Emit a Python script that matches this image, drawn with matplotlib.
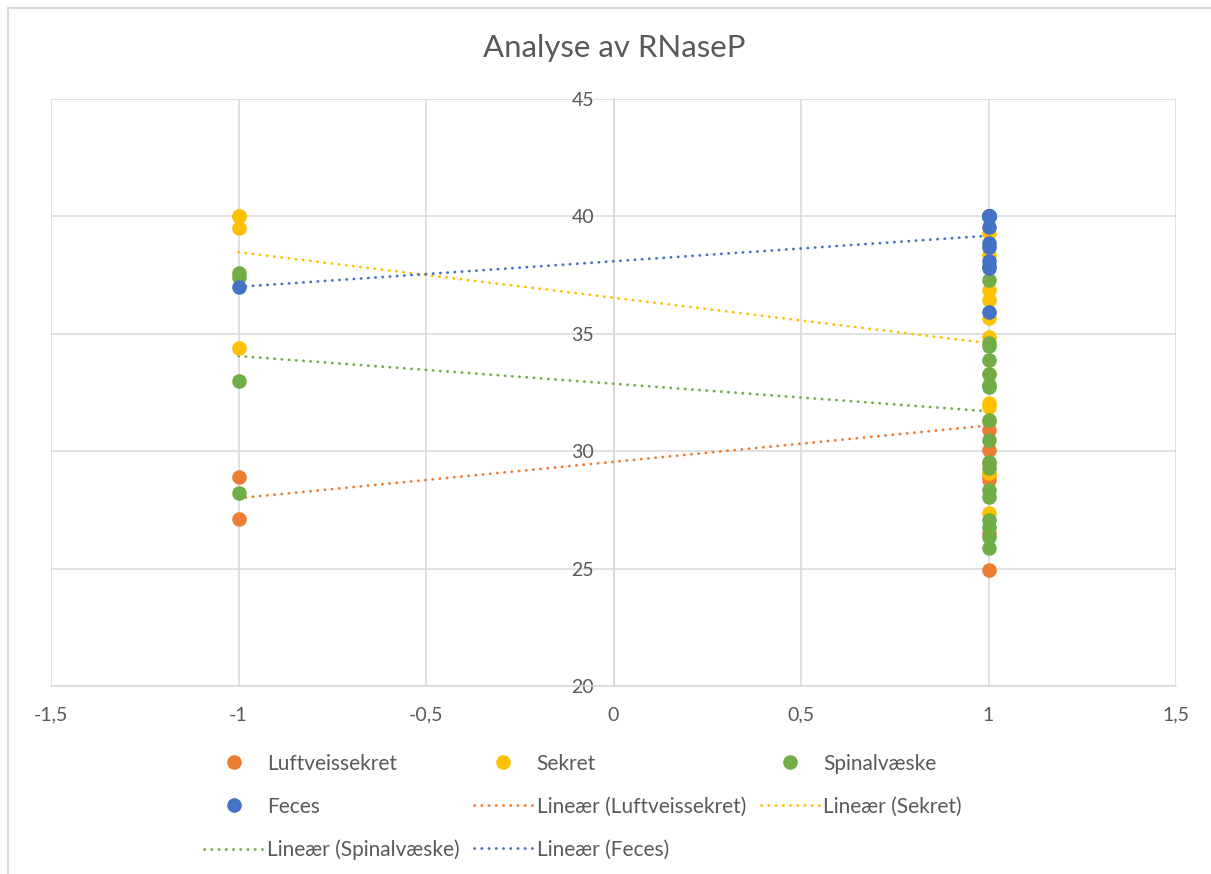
import numpy as np
import matplotlib
matplotlib.use("Agg")
import matplotlib.pyplot as plt
from matplotlib.lines import Line2D

plt.rcParams['font.family'] = ['Lato', 'DejaVu Sans']

title = "Analyse av RNaseP"
series_names = ["Luftveissekret", "Sekret", "Spinalvæske", "Feces"]
colors = ["#ED7D31", "#FFC000", "#70AD47", "#4472C4"]

luft_neg = [28.9, 27.1]
luft_pos = [40.0, 40.0, 31.3, 30.9, 30.05, 29.5, 29.0, 28.77, 26.5, 24.94]
sekret_neg = [40.0, 40.0, 39.5, 34.4]
sekret_pos = [40.0, 39.3, 38.36, 36.86, 36.44, 35.67, 34.88, 33.3, 32.05, 31.9, 29.07, 27.37]
spinal_neg = [37.6, 37.4, 33.0, 28.2]
spinal_pos = [40.0, 40.0, 37.3, 34.6, 34.5, 33.9, 33.3, 32.8, 32.75, 31.33, 30.48,
              29.55, 29.3, 28.35, 28.05, 27.07, 26.77, 26.35, 25.88]
feces_neg = [37.0]
feces_pos = [40.0] * 9 + [39.56, 38.86, 38.7, 38.1, 37.9, 37.8, 35.94]

x_ticks = [-1.5, -1, -0.5, 0, 0.5, 1, 1.5]
x_ticklabels = ["-1,5", "-1", "-0,5", "0", "0,5", "1", "1,5"]
y_ticks = [20, 25, 30, 35, 40, 45]
y_ticklabels = ["20", "25", "30", "35", "40", "45"]

data = [(luft_neg, luft_pos), (sekret_neg, sekret_pos),
        (spinal_neg, spinal_pos), (feces_neg, feces_pos)]

W, H = 1211, 874
fig = plt.figure(figsize=(W / 100, H / 100), dpi=100)
ax = fig.add_axes([51 / W, 1 - 686 / H, (1176 - 51) / W, (686 - 99) / H])

txt = "#595959"
grid = "#d9d9d9"

marker_handles = []
line_handles = []
for i, ((neg, pos), name, c) in enumerate(zip(data, series_names, colors)):
    xs = np.array([-1.0] * len(neg) + [1.0] * len(pos))
    ys = np.array(neg + pos)
    h, = ax.plot(xs, ys, linestyle='none', marker='o', markersize=10.5,
                 markerfacecolor=c, markeredgecolor=c, markeredgewidth=0,
                 zorder=5 + i, label=name)
    marker_handles.append(h)
    coef = np.polyfit(xs, ys, 1)
    xl = np.array([-1.0, 1.0])
    lh, = ax.plot(xl, np.polyval(coef, xl), color=c, linewidth=2.0,
                  linestyle=(0, (0.1, 2.5)), dash_capstyle='round', zorder=3,
                  label=f"Lineær ({name})")
    line_handles.append(lh)

ax.set_xlim(-1.5, 1.5)
ax.set_ylim(20, 45)
ax.set_xticks(x_ticks)
ax.set_xticklabels(x_ticklabels)
ax.set_yticks(y_ticks)
ax.set_yticklabels(y_ticklabels)
ax.grid(True, color=grid, linewidth=1.1, zorder=0)
ax.set_axisbelow(True)
for s in ['top', 'right']:
    ax.spines[s].set_visible(False)
ax.spines['left'].set_position(('data', 0))
ax.spines['left'].set_color(grid)
ax.spines['left'].set_linewidth(1.1)
ax.spines['bottom'].set_color(grid)
ax.spines['bottom'].set_linewidth(1.1)
ax.tick_params(axis='both', length=0, colors=txt, labelsize=14)
ax.tick_params(axis='y', pad=14)
ax.tick_params(axis='x', pad=15)

fig.text(614 / W, 1 - 48 / H, title, ha='center', va='center', fontsize=22.4, color=txt)

order = [marker_handles[0], marker_handles[3], line_handles[2],
         marker_handles[1], line_handles[0], line_handles[3],
         marker_handles[2], line_handles[1]]
leg = fig.legend(handles=order, labels=[h.get_label() for h in order],
                 loc='center', bbox_to_anchor=(583 / W, 1 - 807 / H), ncol=3,
                 frameon=False, fontsize=15, handlelength=2.8, handletextpad=0.2,
                 columnspacing=0.7, labelspacing=1.1)
for t in leg.get_texts():
    t.set_color(txt)

fig.add_artist(Line2D([7.5 / W, 7.5 / W], [0, 1 - 7.5 / H], color="#d9d9d9", linewidth=1.5))
fig.add_artist(Line2D([7.5 / W, 1], [1 - 7.5 / H, 1 - 7.5 / H], color="#d9d9d9", linewidth=1.5))

fig.savefig("out.png", dpi=100)
